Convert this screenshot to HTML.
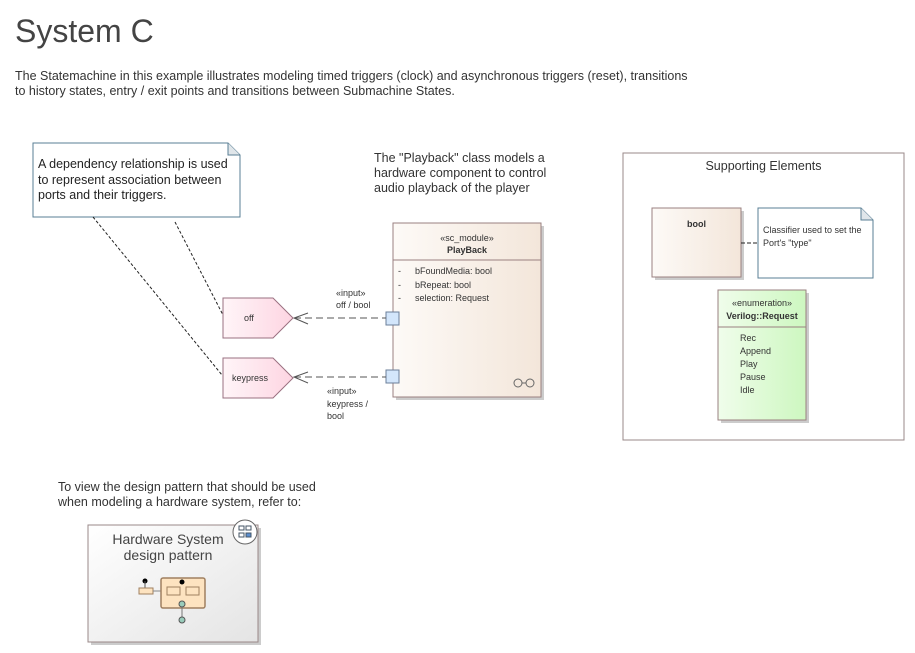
<!DOCTYPE html>
<html><head><meta charset="utf-8"><style>
body{margin:0;width:915px;height:653px;background:#fff;position:relative;font-family:"Liberation Sans",sans-serif;overflow:hidden}
.a{position:absolute}
.s{font-size:9px;color:#333}
</style></head><body>
<div class="a" style="left:15px;top:13px;font-size:32px;color:#444">System C</div>
<div class="a" style="left:15px;top:69px;font-size:12.5px;color:#333;line-height:15px">The Statemachine in this example illustrates modeling timed triggers (clock) and asynchronous triggers (reset), transitions<br>to history states, entry / exit points and transitions between Submachine States.</div>

<svg class="a" style="left:0;top:0" width="915" height="653">
<defs>
<linearGradient id="pk" x1="0" x2="1"><stop offset="0" stop-color="#fff5f8"/><stop offset="1" stop-color="#fdd5e2"/></linearGradient>
<linearGradient id="br" x1="0" x2="1"><stop offset="0" stop-color="#fdfaf7"/><stop offset="1" stop-color="#f3e6da"/></linearGradient>
<linearGradient id="gr" x1="0" x2="1"><stop offset="0" stop-color="#f0fdeb"/><stop offset="1" stop-color="#cdf7c0"/></linearGradient>
<linearGradient id="gy" x1="0" x2="1" y1="0" y2="1"><stop offset="0" stop-color="#fff"/><stop offset="1" stop-color="#e4e4e4"/></linearGradient>
</defs>
<path d="M33,143 H228 L240,155 V217 H33 Z" fill="#fff" stroke="#5a7f94"/>
<path d="M228,143 V155 H240" fill="#e0e6ea" stroke="#5a7f94"/>
<line x1="93" y1="217" x2="222" y2="375" stroke="#222" stroke-dasharray="3,2"/>
<line x1="175" y1="222" x2="223" y2="315" stroke="#222" stroke-dasharray="3,2"/>
<rect x="396" y="226" width="148" height="174" fill="#ccc"/>
<rect x="393" y="223" width="148" height="174" fill="url(#br)" stroke="#9a8080"/>
<line x1="393" y1="260" x2="541" y2="260" stroke="#9a8080"/>
<circle cx="518" cy="383" r="4" fill="none" stroke="#666"/><circle cx="530" cy="383" r="4" fill="none" stroke="#666"/><line x1="522" y1="383" x2="526" y2="383" stroke="#666"/>
<rect x="386" y="312" width="13" height="13" fill="#d3e6fb" stroke="#6b7f99"/>
<rect x="386" y="370" width="13" height="13" fill="#d3e6fb" stroke="#6b7f99"/>
<line x1="294" y1="318" x2="386" y2="318" stroke="#555" stroke-dasharray="7,4"/>
<line x1="294" y1="377" x2="386" y2="377" stroke="#555" stroke-dasharray="7,4"/>
<path d="M308,313 L294,318 L308,324 M308,372 L294,377 L308,383" fill="none" stroke="#555"/>
<path d="M223,298 H273 L293,318 L273,338 H223 Z" fill="url(#pk)" stroke="#9a7080"/>
<path d="M223,358 H273 L293,378 L273,398 H223 Z" fill="url(#pk)" stroke="#9a7080"/>
<rect x="623" y="153" width="281" height="287" fill="none" stroke="#9a8888"/>
<rect x="655" y="211" width="89" height="69" fill="#ccc"/>
<rect x="652" y="208" width="89" height="69" fill="url(#br)" stroke="#9a8080"/>
<line x1="741" y1="243" x2="758" y2="243" stroke="#222" stroke-dasharray="4,2"/>
<path d="M758,208 H861 L873,220 V278 H758 Z" fill="#fff" stroke="#5a7f94"/>
<path d="M861,208 V220 H873" fill="#e0e6ea" stroke="#5a7f94"/>
<rect x="721" y="293" width="88" height="130" fill="#ccc"/>
<rect x="718" y="290" width="88" height="130" fill="url(#gr)" stroke="#9a8080"/>
<line x1="718" y1="327" x2="806" y2="327" stroke="#9a8080"/>
<rect x="91" y="528" width="170" height="117" fill="#ccc"/>
<rect x="88" y="525" width="170" height="117" fill="url(#gy)" stroke="#9a8888"/>
<circle cx="245" cy="532" r="12" fill="#fff" stroke="#666"/>
<rect x="239" y="526" width="5" height="4" fill="#fff" stroke="#456"/><rect x="246" y="533" width="5" height="4" fill="#5b8fd0" stroke="#456"/><rect x="239" y="533" width="5" height="4" fill="#fff" stroke="#456"/><rect x="246" y="526" width="5" height="4" fill="#fff" stroke="#456"/>
<circle cx="145" cy="581" r="2.5" fill="#000"/><line x1="145" y1="581" x2="145" y2="588" stroke="#555"/>
<rect x="139" y="588" width="14" height="6" fill="#fde3c0" stroke="#a08060"/>
<line x1="153" y1="591" x2="161" y2="591" stroke="#888"/>
<rect x="161" y="578" width="44" height="30" rx="2" fill="#fde3c0" stroke="#a08060" stroke-width="1.5"/>
<rect x="167" y="587" width="13" height="8" fill="#fde3c0" stroke="#a08060"/><rect x="186" y="587" width="13" height="8" fill="#fde3c0" stroke="#a08060"/>
<circle cx="182" cy="582" r="2.5" fill="#000"/>
<circle cx="182" cy="604" r="3" fill="#9cb" stroke="#555"/><line x1="182" y1="607" x2="182" y2="617" stroke="#777"/>
<circle cx="182" cy="620" r="3" fill="#9cb" stroke="#555"/>
</svg>

<div class="a" style="left:38px;top:157px;font-size:12.5px;color:#222;line-height:15.5px">A dependency relationship is used<br>to represent association between<br>ports and their triggers.</div>
<div class="a" style="left:374px;top:151px;font-size:12.5px;color:#333;line-height:15px">The "Playback" class models a<br>hardware component to control<br>audio playback of the player</div>
<div class="a s" style="left:393px;top:232px;width:148px;text-align:center;line-height:12px">«sc_module»<br><b>PlayBack</b></div>
<div class="a s" style="left:398px;top:265px;line-height:13.5px">-<br>-<br>-</div>
<div class="a s" style="left:415px;top:265px;line-height:13.5px">bFoundMedia: bool<br>bRepeat: bool<br>selection: Request</div>
<div class="a s" style="left:336px;top:287px;line-height:12px">«input»<br>off / bool</div>
<div class="a s" style="left:327px;top:385px;line-height:12.5px">«input»<br>keypress /<br>bool</div>
<div class="a s" style="left:244px;top:313px">off</div>
<div class="a s" style="left:232px;top:373px">keypress</div>
<div class="a" style="left:623px;top:159px;width:281px;text-align:center;font-size:12.5px;color:#333">Supporting Elements</div>
<div class="a s" style="left:652px;top:219px;width:89px;text-align:center"><b>bool</b></div>
<div class="a s" style="left:763px;top:224px;line-height:13px">Classifier used to set the<br>Port's "type"</div>
<div class="a s" style="left:718px;top:297px;width:88px;text-align:center;line-height:13px">«enumeration»<br><b>Verilog::Request</b></div>
<div class="a s" style="left:740px;top:332px;line-height:13px">Rec<br>Append<br>Play<br>Pause<br>Idle</div>
<div class="a" style="left:58px;top:480px;font-size:12.5px;color:#333;line-height:15px">To view the design pattern that should be used<br>when modeling a hardware system, refer to:</div>
<div class="a" style="left:88px;top:531px;width:160px;text-align:center;font-size:14px;color:#444;line-height:16px">Hardware System<br>design pattern</div>
</body></html>
